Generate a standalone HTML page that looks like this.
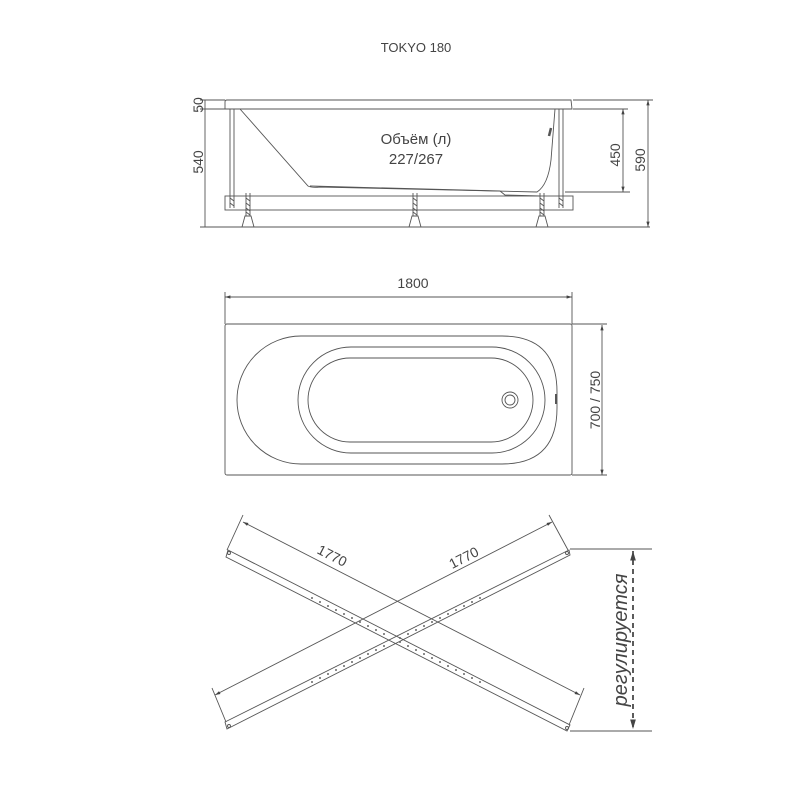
<!DOCTYPE html>
<html><head><meta charset="utf-8"><style>
html,body{margin:0;padding:0;background:#fff}
svg{display:block}
text{font-family:"Liberation Sans","DejaVu Sans",sans-serif;fill:#444}
</style></head><body>
<svg width="800" height="800" viewBox="0 0 800 800" xmlns="http://www.w3.org/2000/svg">
<defs>
<marker id="ar" viewBox="0 0 10 10" refX="10" refY="5" markerWidth="6" markerHeight="6" orient="auto-start-reverse"><path d="M0,2 L10,5 L0,8 z" fill="#444"/></marker>
</defs>
<g fill="none" stroke="#555" stroke-width="0.9">
<text x="416" y="52" font-size="13" text-anchor="middle" stroke="none">TOKYO 180</text>
<!-- side view -->
<path d="M227,100 L571,100 L572,109 L225,109 L225,102 Q225,100 227,100 z"/>
<path d="M240,109 L308,186 Q312,188 320,187 L537,192 Q548,185 551,160 L555,109"/>
<path d="M310,186 L500,191 M500,191 L505,195 L540,196"/>
<path d="M551,128 l-2,8" stroke-width="2.5"/>
<line x1="230" y1="109" x2="230" y2="196"/><line x1="234" y1="109" x2="234" y2="196"/>
<line x1="559" y1="109" x2="559" y2="196"/><line x1="563" y1="109" x2="563" y2="196"/>
<rect x="225" y="196" width="348" height="14"/>
<g>
<path d="M230,196 l0,12 M234,196 l0,12 M559,196 l0,12 M563,196 l0,12"/>
<path d="M246,193 v23 M250,193 v23 M413,193 v23 M417,193 v23 M540,193 v23 M544,193 v23"/>
<path d="M242,227 l3,-11 h6 l3,11 z M409,227 l3,-11 h6 l3,11 z M536,227 l3,-11 h6 l3,11 z"/>
<path d="M246,198 l4,3 M246,203 l4,3 M246,208 l4,3 M246,212 l4,3 M413,198 l4,3 M413,203 l4,3 M413,208 l4,3 M413,212 l4,3 M540,198 l4,3 M540,203 l4,3 M540,208 l4,3 M540,212 l4,3 M230,198 l4,3 M230,203 l4,3 M559,198 l4,3 M559,203 l4,3"/>
</g>
<line x1="205" y1="100" x2="205" y2="227"/>
<path d="M200,100 h25 M200,109 h25 M200,227 h450 M573,100 h80 M565,192 h65 M573,109 h55"/>
<line x1="623" y1="109" x2="623" y2="192" marker-start="url(#ar)" marker-end="url(#ar)"/>
<line x1="648" y1="100" x2="648" y2="227" marker-start="url(#ar)" marker-end="url(#ar)"/>
<text x="416" y="144" font-size="15" text-anchor="middle" stroke="none">Объём (л)</text>
<text x="416" y="164" font-size="15" text-anchor="middle" stroke="none">227/267</text>
<text transform="translate(203,105) rotate(-90)" font-size="14" text-anchor="middle" stroke="none">50</text>
<text transform="translate(203,162) rotate(-90)" font-size="14" text-anchor="middle" stroke="none">540</text>
<text transform="translate(620,155) rotate(-90)" font-size="14" text-anchor="middle" stroke="none">450</text>
<text transform="translate(645,160) rotate(-90)" font-size="14" text-anchor="middle" stroke="none">590</text>
<!-- top view -->
<text x="413" y="288" font-size="14" text-anchor="middle" stroke="none">1800</text>
<line x1="225" y1="297" x2="572" y2="297" marker-start="url(#ar)" marker-end="url(#ar)"/>
<path d="M225,292 v32 M572,292 v32 M572,324 h35 M572,475 h35"/>
<line x1="602" y1="325" x2="602" y2="475" marker-start="url(#ar)" marker-end="url(#ar)"/>
<rect x="225" y="324" width="347" height="151" rx="2"/>
<path d="M301,336 L502,336 Q557,336 557,392 L557,408 Q557,464 502,464 L301,464 A64,64 0 0 1 301,336 z"/>
<path d="M351,347 L492,347 A53,53 0 0 1 492,453 L351,453 A53,53 0 0 1 351,347 z"/>
<path d="M350,358 L491,358 A42,42 0 0 1 491,442 L350,442 A42,42 0 0 1 350,358 z"/>
<circle cx="510" cy="400" r="8"/><circle cx="510" cy="400" r="5"/>
<path d="M556,394 v10" stroke-width="2"/>
<text transform="translate(600,400) rotate(-90)" font-size="14" text-anchor="middle" stroke="none">700 / 750</text>
<!-- crossbars -->
<path d="M228,550 L570,725 L567,731 L226,557 z"/>
<path d="M225,722 L569,550 L570,555 L227,729 z"/>
<circle cx="229" cy="553" r="1.5"/><circle cx="567" cy="728" r="1.5"/>
<circle cx="229" cy="726" r="1.5"/><circle cx="567" cy="553" r="1.5"/>
<line x1="243" y1="522" x2="580" y2="695" marker-start="url(#ar)" marker-end="url(#ar)"/>
<line x1="215" y1="695" x2="552" y2="522" marker-start="url(#ar)" marker-end="url(#ar)"/>
<path d="M243,515 L227,550 M584,688 L569,725 M212,688 L226,722 M549,515 L568,550"/>
<text transform="translate(330,560) rotate(27)" font-size="14" text-anchor="middle" stroke="none">1770</text>
<text transform="translate(466,562) rotate(-27)" font-size="14" text-anchor="middle" stroke="none">1770</text>
<g stroke="none" fill="#666">
<circle cx="312" cy="598" r="1"/><circle cx="320" cy="602" r="1"/><circle cx="328" cy="606" r="1"/><circle cx="336" cy="610" r="1"/><circle cx="344" cy="614" r="1"/><circle cx="352" cy="618" r="1"/><circle cx="360" cy="622" r="1"/><circle cx="368" cy="626" r="1"/><circle cx="376" cy="630" r="1"/><circle cx="384" cy="634" r="1"/><circle cx="400" cy="642" r="1"/><circle cx="408" cy="646" r="1"/><circle cx="416" cy="650" r="1"/><circle cx="424" cy="654" r="1"/><circle cx="432" cy="658" r="1"/><circle cx="440" cy="662" r="1"/><circle cx="448" cy="666" r="1"/><circle cx="456" cy="670" r="1"/><circle cx="464" cy="674" r="1"/><circle cx="472" cy="678" r="1"/><circle cx="480" cy="682" r="1"/>
<circle cx="312" cy="682" r="1"/><circle cx="320" cy="678" r="1"/><circle cx="328" cy="674" r="1"/><circle cx="336" cy="670" r="1"/><circle cx="344" cy="666" r="1"/><circle cx="352" cy="662" r="1"/><circle cx="360" cy="658" r="1"/><circle cx="368" cy="654" r="1"/><circle cx="376" cy="650" r="1"/><circle cx="384" cy="646" r="1"/><circle cx="400" cy="638" r="1"/><circle cx="408" cy="634" r="1"/><circle cx="416" cy="630" r="1"/><circle cx="424" cy="626" r="1"/><circle cx="432" cy="622" r="1"/><circle cx="440" cy="618" r="1"/><circle cx="448" cy="614" r="1"/><circle cx="456" cy="610" r="1"/><circle cx="464" cy="606" r="1"/><circle cx="472" cy="602" r="1"/><circle cx="480" cy="598" r="1"/>
</g>
<path d="M570,549 h82 M570,731 h82"/>
<line x1="633" y1="551" x2="633" y2="729" stroke="#333" stroke-width="1.6" stroke-dasharray="5,4" marker-start="url(#ar)" marker-end="url(#ar)"/>
<text transform="translate(627,640) rotate(-90)" font-size="20" font-style="italic" text-anchor="middle" stroke="none">регулируется</text>
</g>
</svg>
</body></html>
